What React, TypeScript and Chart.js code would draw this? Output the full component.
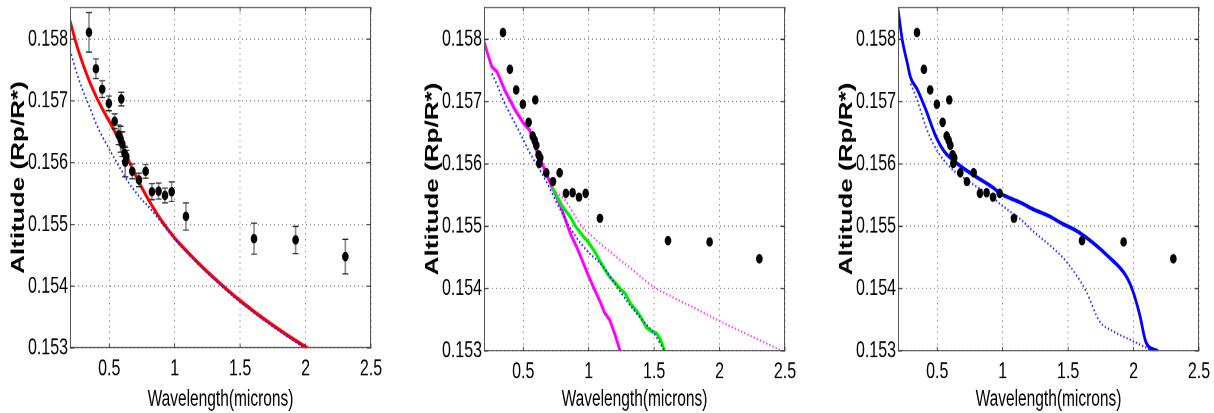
import React, { useEffect, useRef } from 'react';
import { Chart, registerables } from 'chart.js';

Chart.register(...registerables);

// ---------- axes ----------
const xTicks = [0.5, 1, 1.5, 2, 2.5];
const yTicks = [0.153, 0.154, 0.155, 0.156, 0.157, 0.158];
const X_MIN = 0.2;
const X_MAX = 2.5;
const Y_MIN = 0.153;
const Y_MAX = 0.15852;
const xTitle = 'Wavelength(microns)';
const yTitle = 'Altitude (Rp/R*)';

// ---------- observations ----------
const obsWavelength = [0.345, 0.398, 0.446, 0.497, 0.541, 0.572, 0.587, 0.592, 0.6, 0.617, 0.622, 0.63, 0.676, 0.727, 0.778, 0.826, 0.877, 0.926, 0.977, 1.086, 1.606, 1.924, 2.304];
const obsRadius = [0.15811, 0.15752, 0.15719, 0.15696, 0.15667, 0.15645, 0.15638, 0.15703, 0.1563, 0.15615, 0.15601, 0.1561, 0.15586, 0.15572, 0.15586, 0.15553, 0.15554, 0.15547, 0.15553, 0.15513, 0.15477, 0.15475, 0.15448];
const obsError = [0.00032, 0.00016, 0.000135, 0.00012, 0.00012, 0.00016, 0.00021, 0.00011, 0.0002, 0.00012, 0.00024, 0.0001, 0.00012, 0.00011, 0.00011, 0.00013, 0.00013, 0.00012, 0.00016, 0.00022, 0.00025, 0.00022, 0.00028];

// ---------- panel 1 models ----------
const p1RedX = [0.2, 0.25, 0.3, 0.35, 0.4, 0.45, 0.5, 0.55, 0.6, 0.65, 0.7, 0.75, 0.8, 0.9, 1.0, 1.1, 1.2, 1.3, 1.4, 1.5, 1.6, 1.7, 1.8, 1.9, 2.0, 2.05];
const p1RedY = [0.1583, 0.15791, 0.15759, 0.15731, 0.15707, 0.15686, 0.15667, 0.15647, 0.15627, 0.15603, 0.1558, 0.15559, 0.1554, 0.15506, 0.15478, 0.15455, 0.154335, 0.154135, 0.153945, 0.153767, 0.153601, 0.153444, 0.153295, 0.153153, 0.153017, 0.15295];
const p1BlueX = [0.2, 0.25, 0.3, 0.35, 0.4, 0.45, 0.5, 0.55, 0.6, 0.65, 0.7, 0.75, 0.8, 0.9, 1.0, 1.1, 1.2, 1.3, 1.4, 1.5, 1.6, 1.7, 1.8, 1.9, 2.0, 2.05];
const p1BlueY = [0.15783, 0.15746, 0.15716, 0.1569, 0.15663, 0.15641, 0.15622, 0.15603, 0.15585, 0.15567, 0.15553, 0.1554, 0.15529, 0.15503, 0.15476, 0.15453, 0.154315, 0.154115, 0.153925, 0.153747, 0.153581, 0.153424, 0.153275, 0.153133, 0.152997, 0.15293];

// ---------- panel 2 models ----------
const p2MagentaX = [0.2, 0.235, 0.26, 0.3, 0.36, 0.44, 0.5, 0.55, 0.59, 0.656, 0.72, 0.78, 0.86, 0.91, 1.0, 1.05, 1.09, 1.12, 1.16, 1.2, 1.24];
const p2MagentaY = [0.15797, 0.15772, 0.15756, 0.15748, 0.15718, 0.15686, 0.15666, 0.15654, 0.15627, 0.15595, 0.15563, 0.15536, 0.15488, 0.15466, 0.1542, 0.15396, 0.15378, 0.15362, 0.1535, 0.15327, 0.153];
const p2GreenX = [0.72, 0.8, 0.86, 0.9, 0.95, 1.0, 1.05, 1.09, 1.12, 1.16, 1.2, 1.24, 1.28, 1.32, 1.36, 1.39, 1.44, 1.48, 1.52, 1.55, 1.58];
const p2GreenY = [0.15563, 0.15532, 0.15515, 0.155, 0.15486, 0.15474, 0.15458, 0.15443, 0.15432, 0.15419, 0.1541, 0.154, 0.15392, 0.15376, 0.15366, 0.15357, 0.15338, 0.15332, 0.15328, 0.15318, 0.153];
const p2BlueX = [0.26, 0.3, 0.35, 0.4, 0.45, 0.5, 0.55, 0.6, 0.65, 0.7, 0.75, 0.8, 0.85, 0.9, 0.95, 1.0, 1.1, 1.2, 1.3, 1.4, 1.5, 1.58];
const p2BlueY = [0.15745, 0.15727, 0.15701, 0.1568, 0.1566, 0.15639, 0.15618, 0.156, 0.15582, 0.15562, 0.1554, 0.1552, 0.155, 0.15484, 0.1547, 0.15458, 0.15438, 0.15408, 0.15378, 0.15352, 0.15328, 0.153];
const p2MagentaDotX = [0.75, 0.82, 0.9, 0.95, 1.0, 1.09, 1.2, 1.3, 1.4, 1.5, 1.6, 1.7, 1.8, 1.9, 2.0, 2.1, 2.2, 2.3, 2.4, 2.48];
const p2MagentaDotY = [0.15555, 0.15542, 0.15515, 0.15499, 0.15489, 0.15472, 0.15453, 0.15436, 0.15419, 0.15402, 0.15391, 0.1538, 0.1537, 0.15359, 0.15348, 0.15338, 0.15328, 0.15318, 0.15308, 0.153];

// ---------- panel 3 models ----------
const p3BlueX = [0.2, 0.232, 0.27, 0.296, 0.347, 0.411, 0.488, 0.551, 0.628, 0.756, 0.934, 0.973, 1.139, 1.228, 1.369, 1.433, 1.586, 1.816, 1.944, 1.995, 2.046, 2.097, 2.186];
const p3BlueY = [0.15849, 0.158, 0.15763, 0.15739, 0.1572, 0.15688, 0.15645, 0.15621, 0.15605, 0.15585, 0.15561, 0.15554, 0.15538, 0.15528, 0.15515, 0.15507, 0.1549, 0.1545, 0.1542, 0.15396, 0.15359, 0.15313, 0.153];
const p3BlueDotX = [0.296, 0.347, 0.423, 0.5, 0.602, 0.756, 0.934, 0.973, 1.139, 1.228, 1.369, 1.484, 1.637, 1.739, 1.841, 1.995, 2.148];
const p3BlueDotY = [0.15729, 0.15702, 0.15654, 0.15621, 0.15594, 0.1557, 0.15545, 0.15537, 0.15511, 0.15493, 0.15468, 0.15444, 0.15396, 0.15348, 0.15332, 0.15316, 0.153];

const zip = (xs: number[], ys: number[]) => xs.map((x, i) => ({ x, y: ys[i] }));

// The original figure is a MATLAB plot stretched vertically; draw at a
// shorter height and stretch the canvas to the page height.
const PAGE_H = 413;
const CANVAS_H = 285;
const STRETCH = PAGE_H / CANVAS_H;

const FONT = "'Liberation Sans', Arial, Helvetica, sans-serif";

const pointsDataset = () => ({
  label: 'observed',
  data: zip(obsWavelength, obsRadius),
  showLine: false,
  pointRadius: 3.3,
  pointBackgroundColor: '#000',
  pointBorderColor: '#000',
  pointBorderWidth: 0,
});

const solid = (label: string, xs: number[], ys: number[], color: string, smooth: boolean) => ({
  label,
  data: zip(xs, ys),
  showLine: true,
  borderColor: color,
  borderWidth: 2.7,
  pointRadius: 0,
  cubicInterpolationMode: smooth ? 'monotone' : 'default',
  tension: 0,
});

const dotted = (label: string, xs: number[], ys: number[], color: string) => ({
  label,
  data: zip(xs, ys),
  showLine: true,
  borderColor: color,
  borderWidth: 1.6,
  borderDash: [1.3, 2],
  pointRadius: 0,
  cubicInterpolationMode: 'monotone',
});

const boxPlugin = {
  id: 'matlabBox',
  beforeDatasetDraw(chart: any, args: any, opts: any) {
    if (args.index !== 0 || !opts.errorBars) return;
    const { ctx } = chart;
    const xs = chart.scales.x;
    const ys = chart.scales.y;
    ctx.save();
    obsWavelength.forEach((w, i) => {
      const px = xs.getPixelForValue(w);
      const top = ys.getPixelForValue(obsRadius[i] + obsError[i]);
      const bot = ys.getPixelForValue(obsRadius[i] - obsError[i]);
      ctx.strokeStyle = '#8a8a8a';
      ctx.lineWidth = 1.6;
      ctx.beginPath();
      ctx.moveTo(px, top);
      ctx.lineTo(px, bot);
      ctx.stroke();
      ctx.strokeStyle = '#222';
      ctx.lineWidth = 0.8;
      ctx.beginPath();
      ctx.moveTo(px - 3, top);
      ctx.lineTo(px + 3, top);
      ctx.moveTo(px - 3, bot);
      ctx.lineTo(px + 3, bot);
      ctx.stroke();
    });
    ctx.restore();
  },
  afterDraw(chart: any) {
    const { ctx, chartArea } = chart;
    const { left, right, top, bottom } = chartArea;
    const xs = chart.scales.x;
    const ys = chart.scales.y;
    ctx.save();
    ctx.strokeStyle = '#555';
    ctx.lineWidth = 1;
    ctx.beginPath();
    ctx.moveTo(left + 0.5, top);
    ctx.lineTo(left + 0.5, bottom);
    ctx.moveTo(right - 0.5, top);
    ctx.lineTo(right - 0.5, bottom);
    ctx.stroke();
    ctx.lineWidth = 0.75;
    ctx.beginPath();
    ctx.moveTo(left, top + 0.4);
    ctx.lineTo(right, top + 0.4);
    ctx.moveTo(left, bottom - 0.4);
    ctx.lineTo(right, bottom - 0.4);
    ctx.stroke();
    ctx.strokeStyle = '#333';
    ctx.lineWidth = 0.8;
    ctx.beginPath();
    xTicks.forEach((v) => {
      const px = xs.getPixelForValue(v);
      ctx.moveTo(px, bottom);
      ctx.lineTo(px, bottom - 3);
      ctx.moveTo(px, top);
      ctx.lineTo(px, top + 3);
    });
    yTicks.forEach((v) => {
      const py = ys.getPixelForValue(v);
      ctx.moveTo(left, py);
      ctx.lineTo(left + 4, py);
      ctx.moveTo(right, py);
      ctx.lineTo(right - 4, py);
    });
    ctx.stroke();
    ctx.restore();
  },
};

type PanelProps = {
  width: number;
  plotRight: number;
  plotBottom: number;
  datasets: any[];
  errorBars: boolean;
};

function Panel({ width, plotRight, plotBottom, datasets, errorBars }: PanelProps) {
  const ref = useRef<HTMLCanvasElement | null>(null);
  useEffect(() => {
    if (!ref.current) return;
    const gridStyle = {
      display: true,
      color: '#8f8f8f',
      lineWidth: 1,
      drawTicks: false,
    };
    const bottomInCanvas = plotBottom / STRETCH;
    const chart = new Chart(ref.current, {
      type: 'scatter',
      data: { datasets },
      plugins: [boxPlugin],
      options: {
        responsive: false,
        animation: false,
        devicePixelRatio: 2,
        layout: { padding: { left: 0, top: 7 / STRETCH, right: width - plotRight, bottom: 0 } },
        plugins: {
          legend: { display: false },
          tooltip: { enabled: false },
          matlabBox: { errorBars },
        } as any,
        scales: {
          x: {
            type: 'linear',
            min: X_MIN,
            max: X_MAX,
            afterBuildTicks: (s: any) => {
              s.ticks = xTicks.map((v) => ({ value: v }));
            },
            afterFit: (s: any) => {
              s.height = CANVAS_H - bottomInCanvas;
              s.paddingLeft = 0;
              s.paddingRight = 0;
            },
            grid: gridStyle as any,
            border: { display: false, dash: [1, 3] },
            ticks: {
              color: '#000',
              padding: 5,
              maxRotation: 0,
              autoSkip: false,
              font: { family: FONT, size: 16 },
              callback: (v: any) => String(v),
            },
            title: {
              display: true,
              text: xTitle,
              color: '#000',
              font: { family: FONT, size: 15.5, lineHeight: 1.2 },
              padding: { top: 0, bottom: 0 },
            },
          },
          y: {
            type: 'linear',
            min: Y_MIN,
            max: Y_MAX,
            afterBuildTicks: (s: any) => {
              s.ticks = yTicks.map((v) => ({ value: v }));
            },
            afterFit: (s: any) => {
              s.width = 70;
              s.paddingTop = 0;
              s.paddingBottom = 0;
            },
            grid: gridStyle as any,
            border: { display: false, dash: [1, 3] },
            ticks: {
              color: '#000',
              padding: 2,
              autoSkip: false,
              font: { family: FONT, size: 16 },
              callback: (v: any) => Number(v).toFixed(3),
            },
            title: {
              display: true,
              text: yTitle,
              color: '#000',
              font: { family: FONT, size: 18, weight: 'bold', lineHeight: 1.2 },
              padding: { top: 8, bottom: 0 },
            },
          },
        },
      } as any,
    });
    return () => chart.destroy();
  }, []);
  return (
    <div style={{ width, height: CANVAS_H, transform: `scaleY(${STRETCH})`, transformOrigin: '0 0' }}>
      <canvas ref={ref} width={width} height={CANVAS_H} style={{ display: 'block', width, height: CANVAS_H }} />
    </div>
  );
}

export default function App() {
  const panel1 = [
    pointsDataset(),
    dotted('model (dotted)', p1BlueX, p1BlueY, '#2020ff'),
    solid('model', p1RedX, p1RedY, '#ff0000', true),
  ];
  const panel2 = [
    pointsDataset(),
    dotted('blue dotted', p2BlueX, p2BlueY, '#2020ff'),
    dotted('magenta dotted', p2MagentaDotX, p2MagentaDotY, '#ff40ff'),
    solid('green', p2GreenX, p2GreenY, '#00ee00', false),
    solid('magenta', p2MagentaX, p2MagentaY, '#ff00ff', false),
  ];
  const panel3 = [
    pointsDataset(),
    solid('blue', p3BlueX, p3BlueY, '#0000ff', true),
    dotted('blue dotted', p3BlueDotX, p3BlueDotY, '#3030ff'),
  ];
  return (
    <div style={{ position: 'fixed', left: 0, top: 0, width: 1214, height: PAGE_H, background: '#fff', overflow: 'hidden' }}>
      <div style={{ position: 'absolute', left: 0, top: 0 }}>
        <Panel width={414} plotRight={371} plotBottom={348} datasets={panel1} errorBars={true} />
      </div>
      <div style={{ position: 'absolute', left: 414, top: 0 }}>
        <Panel width={414} plotRight={371} plotBottom={351} datasets={panel2} errorBars={false} />
      </div>
      <div style={{ position: 'absolute', left: 828, top: 0 }}>
        <Panel width={386} plotRight={371} plotBottom={351} datasets={panel3} errorBars={false} />
      </div>
    </div>
  );
}
